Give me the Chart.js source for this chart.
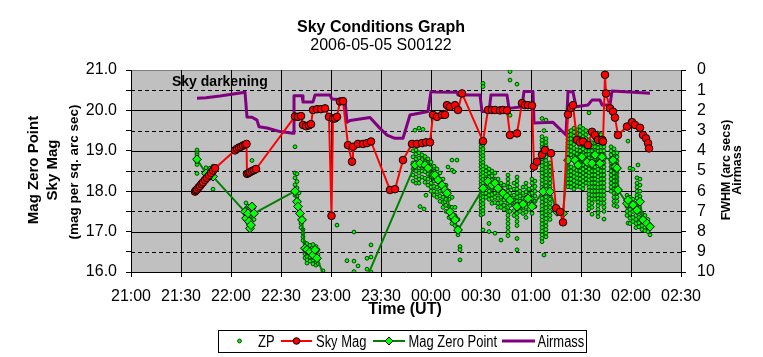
<!DOCTYPE html>
<html><head><meta charset="utf-8">
<script src="https://cdn.jsdelivr.net/npm/chart.js@4"></script>
<style>html,body{margin:0;padding:0;background:#fff}canvas{display:block}</style>
</head><body>
<canvas id="c" width="763" height="357"></canvas>
<script>
const FONT = "'Liberation Sans', Arial, sans-serif";

// ---- axis ticks ----
const xTickValues = [21,21.5,22,22.5,23,23.5,24,24.5,25,25.5,26,26.5];
const xTickLabels = ['21:00','21:30','22:00','22:30','23:00','23:30','00:00','00:30','01:00','01:30','02:00','02:30'];
const yTickValues = [16,16.5,17,17.5,18,18.5,19,19.5,20,20.5,21];
const yTickLabels = ['16.0','','17.0','','18.0','','19.0','','20.0','','21.0'];
const y2TickValues = [0,1,2,3,4,5,6,7,8,9,10];
const y2TickLabels = ['0','1','2','3','4','5','6','7','8','9','10'];

// ---- Sky Mag (time in hours UT, past midnight = 24+) ----
const skyMagTime = [21.64,21.65,21.66,21.675,21.69,21.705,21.72,21.74,21.76,21.78,21.80,21.82,21.84,
 22.04,22.06,22.08,22.10,22.12,22.14,22.155,
 22.16,22.175,22.19,22.21,22.23,22.25,
 22.64,22.67,22.70,22.72,22.75,22.78,22.80,22.82,22.86,22.90,22.94,22.98,23.005,23.02,23.04,23.06,23.09,23.12,
 23.17,23.21,23.22,23.27,23.32,23.36,23.40,
 23.59,23.64,23.72,23.81,23.86,23.91,23.95,23.99,
 24.02,24.06,24.11,24.14,24.16,24.19,24.24,24.27,24.31,
 24.52,24.57,24.61,24.64,24.69,24.72,24.76,24.79,24.86,24.91,24.94,24.97,25.01,
 25.03,25.06,25.11,25.14,25.20,25.25,25.29,25.32,
 25.37,25.40,25.42,25.46,25.49,25.52,25.57,25.61,25.64,25.67,25.71,25.72,25.74,25.75,25.79,25.82,25.84,25.87,
 25.96,26.01,26.04,26.09,26.12,26.15,26.17,26.18];
const skyMagValue = [17.99,18.02,18.04,18.09,18.13,18.18,18.22,18.28,18.33,18.39,18.45,18.51,18.57,
 19.01,19.05,19.08,19.10,19.13,19.15,19.17,
 18.43,18.45,18.47,18.50,18.52,18.55,
 19.85,19.84,19.86,19.64,19.61,19.63,19.66,20.01,20.03,20.03,20.05,19.84,17.39,19.80,19.80,19.84,20.22,20.23,
 19.14,18.73,19.10,19.17,19.17,19.19,19.23,
 18.03,18.05,18.77,19.17,19.17,19.19,19.21,19.21,
 19.89,19.84,19.89,19.89,20.13,20.09,20.13,20.01,20.42,
 19.24,20.01,20.01,20.01,20.00,20.01,20.00,19.39,19.43,20.18,20.13,20.13,20.12,
 18.61,18.73,18.90,19.02,18.94,17.58,17.49,17.23,
 19.90,20.06,20.13,19.27,19.21,19.23,19.14,19.47,19.39,19.27,19.27,19.23,20.88,20.42,20.05,19.97,19.82,19.39,
 19.60,19.71,19.64,19.57,19.39,19.31,19.19,19.06];

// ---- Mag Zero Point ----
const mzpTime = [21.66,21.75,21.82,22.14,22.15,22.17,22.18,22.19,22.20,22.21,22.23,
 22.64,22.66,22.67,22.69,22.71,22.74,22.76,22.79,22.82,22.84,22.86,23.14,
 23.84,23.89,23.94,23.97,24.02,24.04,24.07,24.11,24.14,24.16,24.19,24.22,24.24,24.27,
 24.52,24.57,24.61,24.64,24.67,24.72,24.76,24.79,24.86,24.92,24.97,25.01,
 25.12,25.19,25.26,25.32,
 25.37,25.44,25.47,25.51,25.56,25.61,25.64,25.69,25.71,25.82,25.84,25.86,25.87,
 25.96,25.97,26.02,26.06,26.09,26.12,26.16,26.19];
const mzpValue = [18.79,18.44,18.36,17.49,17.33,17.45,17.25,17.08,17.16,17.62,17.45,
 18.00,17.74,17.62,17.45,17.29,16.59,16.55,16.50,16.42,16.55,16.34,14.60,
 18.65,18.69,18.65,18.57,18.40,18.40,18.28,18.15,18.03,17.95,17.49,17.37,17.29,17.04,
 18.07,18.24,18.15,18.20,18.07,17.95,17.86,17.78,17.62,17.68,17.82,17.62,
 17.99,17.99,17.49,17.45,
 18.77,18.77,18.65,18.85,18.72,18.69,18.90,18.69,18.85,18.77,18.60,18.57,18.03,
 17.70,17.78,17.66,17.53,17.74,17.29,17.20,17.12];

// ---- Airmass (right axis) ----
const airmassTime = [21.66,21.75,21.89,22.14,22.16,22.21,22.26,22.28,22.36,22.49,22.62,22.63,22.71,22.72,22.82,22.84,22.99,
 23.01,23.14,23.16,23.19,23.39,23.49,23.56,23.64,23.72,23.79,23.97,24.00,24.04,24.26,24.27,24.49,24.51,24.58,24.60,24.76,
 24.78,24.91,24.93,25.02,25.03,25.22,25.35,25.37,25.42,25.45,25.57,25.61,25.69,25.71,25.79,25.81,25.99,26.19];
const airmassValue = [1.40,1.37,1.29,1.10,2.33,2.34,2.48,2.81,2.87,3.05,3.13,1.27,1.27,1.58,1.58,1.24,1.24,
 1.44,1.49,2.59,2.50,2.35,2.89,3.22,3.38,3.38,2.23,2.05,1.07,1.09,1.10,1.24,1.24,2.06,2.06,1.24,1.24,
 1.90,1.82,1.07,1.07,2.62,2.59,3.22,1.07,1.09,1.82,1.73,1.49,1.49,1.73,1.73,1.04,1.09,1.15];

// ---- ZP individual frames: [time, value, value, ...] ----
const zpColumns = [
 [21.66, 19.02, 18.95, 18.90, 18.84, 18.72, 18.66, 18.44],
 [21.75, 18.58, 18.49, 18.40],
 [21.79, 18.57, 18.47, 18.33],
 [21.82, 18.62, 18.45, 18.05],
 [22.15, 17.71, 17.57, 17.40, 17.30],
 [22.17, 17.63, 17.50, 17.34, 17.21],
 [22.19, 17.48, 17.37, 17.24, 17.09, 17.03],
 [22.21, 18.76, 17.55, 17.45, 17.17],
 [22.23, 17.60, 17.47, 17.30],
 [22.64, 19.10, 18.45, 18.33, 18.16, 18.01, 17.90],
 [22.66, 18.43, 18.24, 18.08, 17.87, 17.79, 17.70],
 [22.68, 17.96, 17.63, 17.55, 17.46],
 [22.70, 17.38, 17.30, 17.20, 17.10],
 [22.72, 17.05, 16.96, 16.87, 16.78],
 [22.74, 16.72, 16.62, 16.55, 16.45, 16.35],
 [22.76, 16.70, 16.60, 16.47, 16.38, 16.30, 16.22],
 [22.79, 16.66, 16.56, 16.46, 16.37, 16.27],
 [22.82, 16.68, 16.50, 16.41, 16.30, 16.20],
 [22.85, 16.63, 16.49, 16.39, 16.25, 16.17],
 [22.87, 16.55, 16.43, 16.32, 16.21],
 [22.92, 16.03],
 [23.06, 17.16],
 [23.16, 16.28],
 [23.23, 16.99, 16.27, 16.01],
 [23.27, 16.15],
 [23.36, 16.34, 16.07],
 [23.40, 16.67, 16.37, 16.00],
 [23.82, 19.00, 18.85, 18.70, 18.55, 18.40, 18.25],
 [23.84, 19.51],
 [23.85, 19.02, 18.92, 18.80, 18.66, 18.50, 18.35, 18.20],
 [23.88, 19.56, 18.95, 18.82, 18.70, 18.58, 18.45, 18.30, 18.20],
 [23.89, 17.62],
 [23.91, 18.90, 18.78, 18.62, 18.50, 18.35],
 [23.92, 19.53],
 [23.93, 17.56],
 [23.94, 18.86, 18.74, 18.60, 18.48, 18.32, 18.22],
 [23.95, 17.90],
 [23.97, 18.80, 18.68, 18.55, 18.42, 18.30, 18.15],
 [24.00, 18.72, 18.60, 18.45, 18.35, 18.20, 18.10, 18.00],
 [24.03, 18.62, 18.50, 18.38, 18.25, 18.12, 18.00, 17.90],
 [24.06, 18.55, 18.40, 18.25, 18.10, 17.98, 17.85],
 [24.09, 18.45, 18.30, 18.15, 18.00, 17.88, 17.75],
 [24.12, 18.30, 18.15, 18.00, 17.85, 17.72, 17.60],
 [24.14, 17.74],
 [24.15, 18.15, 17.95, 17.80, 17.65, 17.50],
 [24.17, 18.60],
 [24.18, 18.00, 17.80, 17.62, 17.48, 17.35],
 [24.21, 18.77, 18.52, 17.85, 17.60, 17.45, 17.30, 17.20],
 [24.23, 18.48],
 [24.24, 17.60, 17.40, 17.28, 17.15],
 [24.26, 18.77],
 [24.27, 17.30, 17.10, 17.00, 16.92],
 [24.29, 16.63, 16.55, 16.30],
 [24.50, 19.19, 19.10, 19.02, 18.93, 18.85, 18.76, 18.68, 18.60, 18.51, 18.42, 18.34, 18.25, 18.17, 18.08, 18.00, 17.91, 17.83, 17.74, 17.66, 17.57, 17.49, 17.41],
 [24.52, 20.67, 20.59, 19.15, 19.05, 18.97, 18.88, 18.80, 18.71, 18.63, 18.54, 18.46, 18.37, 18.29, 18.20, 18.12, 18.03, 17.95, 17.86, 17.78, 17.69, 17.61, 17.52, 17.44, 17.04],
 [24.55, 18.60, 18.50, 18.42, 18.30, 18.20, 18.10, 17.95, 17.85],
 [24.58, 18.55, 18.45, 18.35, 18.25, 18.12, 18.00, 17.90, 17.80, 17.20, 17.00],
 [24.61, 18.50, 18.38, 18.28, 18.15, 18.05, 17.92, 17.82, 17.70],
 [24.64, 18.45, 18.30, 18.20, 18.08, 17.95, 17.85, 17.72, 16.96],
 [24.67, 18.30, 18.18, 18.05, 17.95, 17.82, 17.70, 17.60],
 [24.70, 18.20, 18.08, 17.95, 17.85, 17.72, 17.60, 16.79],
 [24.73, 18.15, 18.00, 17.90, 17.78, 17.65, 17.55],
 [24.77, 18.40, 18.30, 18.20, 18.10, 18.00, 17.90, 17.80, 17.70, 17.60, 17.50, 17.40, 17.30, 17.20, 17.10, 17.00, 16.90],
 [24.79, 20.96, 20.75, 19.88, 18.10, 17.95, 17.80, 17.65, 17.50],
 [24.83, 18.20, 18.05, 17.90, 17.78, 17.65, 17.52, 17.40],
 [24.86, 20.65, 18.35, 18.25, 18.15, 18.05, 17.95, 17.85, 17.75, 17.65, 17.55, 17.45, 17.35, 17.25, 17.15, 16.83, 16.55],
 [24.89, 18.00, 17.88, 17.75, 17.62, 17.50],
 [24.92, 18.10, 17.95, 17.82, 17.70, 17.58, 17.45],
 [24.95, 18.20, 18.10, 17.98, 17.85, 17.72, 17.60, 17.48, 17.35],
 [24.98, 18.05, 17.92, 17.80, 17.68, 17.55],
 [25.01, 18.30, 18.20, 18.08, 17.95, 17.82, 17.70, 17.58, 17.45],
 [25.04, 18.25, 18.12, 18.00, 17.88, 17.75, 17.62],
 [25.11, 19.80, 19.35, 19.26, 19.17, 19.08, 18.99, 18.90, 18.81, 18.72, 18.63, 18.54, 18.45, 18.36, 18.27, 18.18, 18.09, 18.00, 17.91, 17.82, 17.73, 17.64, 17.55, 17.46, 17.37, 17.28, 17.19, 17.10, 17.01, 16.92, 16.83, 16.75],
 [25.13, 19.50, 16.42],
 [25.15, 19.76, 19.30, 19.21, 19.12, 19.03, 18.94, 18.85, 18.76, 18.67, 18.58, 18.49, 18.40, 18.31, 18.22, 18.13, 18.04, 17.95, 17.86, 17.77, 17.68, 17.59, 17.50, 17.41, 17.32, 17.23, 17.14, 17.05, 16.96, 16.87],
 [25.19, 18.70, 18.60, 18.50, 18.40, 18.30, 18.20, 18.10, 18.00, 17.90, 17.80, 17.70, 17.60, 17.50, 17.40, 17.30],
 [25.37, 19.47, 19.38, 19.29, 19.20, 19.11, 19.02, 18.93, 18.84, 18.66, 18.57, 18.48, 18.39, 18.30, 18.20, 18.11],
 [25.40, 19.50, 19.40, 19.30, 19.20, 19.10, 19.00, 18.90, 18.60, 18.50, 18.40, 18.30, 18.20, 18.10],
 [25.43, 19.56, 19.46, 19.36, 19.26, 19.16, 19.06, 18.96, 18.86, 18.76, 18.56, 18.46, 18.36, 18.26, 18.16, 18.05],
 [25.46, 19.52, 19.42, 19.32, 19.22, 19.02, 18.92, 18.82, 18.72, 18.52, 18.42, 18.32, 18.22, 18.12],
 [25.49, 19.60, 19.50, 19.40, 19.30, 19.10, 19.00, 18.90, 18.80, 18.70, 18.60, 18.50, 18.40, 18.30, 18.20, 18.10],
 [25.52, 19.55, 19.45, 19.35, 19.25, 19.15, 19.05, 18.95, 18.75, 18.65, 18.55, 18.45, 18.35, 18.25, 18.15, 18.06],
 [25.55, 19.50, 19.40, 19.30, 19.20, 19.10, 19.00, 18.90, 18.80, 18.70, 18.60, 18.50, 18.40, 18.30, 18.20],
 [25.58, 19.94, 19.27, 19.18, 19.09, 19.00, 18.91, 18.82, 18.64, 18.55, 18.46, 18.37, 18.28, 18.19, 18.10, 18.01, 17.92, 17.83, 17.74, 17.65, 17.56],
 [25.61, 19.20, 19.10, 19.00, 18.90, 18.80, 18.60, 18.50, 18.40, 18.30, 18.20, 18.10, 18.00, 17.90, 17.80, 17.70, 17.60, 17.43],
 [25.64, 19.30, 19.20, 19.10, 19.00, 18.80, 18.70, 18.60, 18.50, 18.40, 18.30, 18.20, 18.10, 18.00, 17.90, 17.80],
 [25.67, 19.44, 19.35, 19.26, 19.17, 19.08, 18.99, 18.90, 18.81, 18.72, 18.63, 18.54, 18.45, 18.36, 18.27, 18.18, 18.09, 18.00, 17.91, 17.82, 17.73, 17.64, 17.55, 17.46, 17.37],
 [25.70, 19.40, 19.30, 19.20, 19.10, 19.00, 18.90, 18.80, 18.70, 18.60, 18.50, 18.40, 18.30, 18.20, 18.10, 18.00, 17.90, 17.80, 17.70],
 [25.73, 19.30, 19.20, 19.10, 19.00, 18.90, 18.80, 18.70, 18.60, 18.50, 18.40, 18.30, 18.20, 18.10, 18.00, 17.90, 17.80, 17.70, 17.60, 17.50, 17.31],
 [25.80, 19.10, 19.00, 18.90, 18.80, 18.70, 18.60, 18.50, 18.40, 18.30, 18.20, 18.10, 18.00],
 [25.83, 19.05, 18.95, 18.85, 18.75, 18.65, 18.55, 18.45, 18.35, 18.25, 18.15, 18.05, 17.95, 17.85, 17.75, 17.65],
 [25.86, 18.95, 18.85, 18.75, 18.65, 18.55, 18.45, 18.35, 18.25, 18.15, 18.05, 17.95, 17.85, 17.75, 17.62],
 [25.96, 17.90, 17.75, 17.62, 17.50, 17.40],
 [25.97, 19.24, 17.21],
 [25.99, 18.57, 17.85, 17.70, 17.55, 17.45, 17.33, 17.20],
 [26.02, 18.54, 17.80, 17.65, 17.50, 17.35, 17.25],
 [26.05, 17.70, 17.55, 17.40, 17.30, 17.20, 17.10],
 [26.06, 18.33, 18.20, 18.10, 18.00, 17.90, 17.83],
 [26.07, 18.65],
 [26.08, 17.60, 17.48, 17.35, 17.22, 17.12],
 [26.09, 18.30, 18.15, 18.00, 17.87],
 [26.11, 17.45, 17.35, 17.25, 17.15, 17.05],
 [26.14, 17.40, 17.30, 17.20, 17.10, 17.02],
 [26.17, 17.30, 17.20, 17.10, 17.00],
 [26.19, 17.15, 16.92]
];

const pairs = (ts, vs) => ts.map((t, i) => ({x: t, y: vs[i]}));
const zpPoints = [];
zpColumns.forEach(c => { for (let i = 1; i < c.length; i++) zpPoints.push({x: c[0], y: c[i]}); });

function txt(ctx, s, x, y, font, align, rot, sx) {
  ctx.save();
  ctx.translate(x, y);
  if (rot) ctx.rotate(rot);
  if (sx) ctx.scale(sx, 1);
  ctx.font = font; ctx.textAlign = align || 'left'; ctx.textBaseline = 'alphabetic';
  ctx.fillStyle = '#000';
  ctx.fillText(s, 0, 0);
  ctx.restore();
}

const decor = {
  id: 'decor',
  beforeDraw(chart) {
    const {ctx, chartArea: a} = chart;
    const xs = chart.scales.x, ys = chart.scales.y;
    ctx.save();
    ctx.fillStyle = '#fff'; ctx.fillRect(0, 0, chart.width, chart.height);
    ctx.fillStyle = '#c0c0c0'; ctx.fillRect(a.left, a.top, a.right - a.left, a.bottom - a.top);
    ctx.lineWidth = 1;
    yTickValues.forEach(v => {
      if (v === 16) return;
      const p = Math.round(ys.getPixelForValue(v)) + 0.5;
      ctx.beginPath();
      if (v === 21) { ctx.strokeStyle = '#808080'; ctx.setLineDash([]); }
      else { ctx.strokeStyle = '#000'; ctx.setLineDash(Number.isInteger(v) ? [] : [4, 3]); }
      ctx.moveTo(a.left, p); ctx.lineTo(a.right, p); ctx.stroke();
    });
    ctx.setLineDash([]);
    ctx.strokeStyle = '#000';
    xTickValues.forEach(v => {
      if (v === 21 || v === 26.5) return;
      const p = Math.round(xs.getPixelForValue(v)) + 0.5;
      ctx.beginPath(); ctx.moveTo(p, a.top); ctx.lineTo(p, a.bottom); ctx.stroke();
    });
    ctx.restore();
  },
  afterDraw(chart) {
    const ctx = chart.ctx;
    const B = 'bold ';
    txt(ctx, 'Sky Conditions Graph', 381, 31.5, B + '16px ' + FONT, 'center');
    txt(ctx, '2006-05-05 S00122', 381, 50, '16px ' + FONT, 'center');
    txt(ctx, 'Time (UT)', 405, 314, B + '16px ' + FONT, 'center');
    txt(ctx, 'Mag Zero Point', 37.5, 170, B + '15px ' + FONT, 'center', -Math.PI / 2);
    txt(ctx, 'Sky Mag', 57, 170, B + '15px ' + FONT, 'center', -Math.PI / 2);
    txt(ctx, '(mag per sq. arc sec)', 77.5, 172, B + '13.5px ' + FONT, 'center', -Math.PI / 2);
    txt(ctx, 'FWHM (arc secs)', 729.5, 170, B + '12.5px ' + FONT, 'center', -Math.PI / 2);
    txt(ctx, 'Airmass', 741, 170, B + '12.5px ' + FONT, 'center', -Math.PI / 2);
    txt(ctx, 'Sky darkening', 172, 85.5, B + '14px ' + FONT, 'left');
    // legend
    ctx.save();
    ctx.strokeStyle = '#000'; ctx.lineWidth = 1;
    ctx.strokeRect(218.5, 330.5, 368, 22);
    const ly = 341;
    const LF = '16px ' + FONT, SX = 0.81;
    // ZP
    ctx.beginPath(); ctx.arc(239.5, ly, 1.9, 0, Math.PI * 2);
    ctx.fillStyle = '#00ff00'; ctx.fill(); ctx.strokeStyle = '#003300'; ctx.lineWidth = 0.9; ctx.stroke();
    txt(ctx, 'ZP', 258, 346.5, LF, 'left', 0, SX);
    // Sky Mag
    ctx.strokeStyle = '#ff0000'; ctx.lineWidth = 2;
    ctx.beginPath(); ctx.moveTo(281, ly); ctx.lineTo(312, ly); ctx.stroke();
    ctx.beginPath(); ctx.arc(296.5, ly, 3.3, 0, Math.PI * 2);
    ctx.fillStyle = '#ff0000'; ctx.fill(); ctx.strokeStyle = '#000'; ctx.lineWidth = 1; ctx.stroke();
    txt(ctx, 'Sky Mag', 316, 346.5, LF, 'left', 0, SX);
    // Mag Zero Point
    ctx.strokeStyle = '#008000'; ctx.lineWidth = 2;
    ctx.beginPath(); ctx.moveTo(373, ly); ctx.lineTo(405, ly); ctx.stroke();
    ctx.beginPath(); ctx.moveTo(389, ly - 4); ctx.lineTo(393, ly); ctx.lineTo(389, ly + 4); ctx.lineTo(385, ly); ctx.closePath();
    ctx.fillStyle = '#00ff00'; ctx.fill(); ctx.strokeStyle = '#000'; ctx.lineWidth = 1; ctx.stroke();
    txt(ctx, 'Mag Zero Point', 408.5, 346.5, LF, 'left', 0, SX);
    // Airmass
    ctx.strokeStyle = '#800080'; ctx.lineWidth = 3;
    ctx.beginPath(); ctx.moveTo(502, ly); ctx.lineTo(535, ly); ctx.stroke();
    txt(ctx, 'Airmass', 537.5, 346.5, LF, 'left', 0, SX);
    ctx.restore();
  }
};

new Chart(document.getElementById('c'), {
  type: 'line',
  data: {
    datasets: [
      {label: 'ZP', data: zpPoints, showLine: false, yAxisID: 'y', order: 4,
       pointRadius: 1.9, pointBackgroundColor: '#00ff00', pointBorderColor: '#003300', pointBorderWidth: 0.9},
      {label: 'Sky Mag', data: pairs(skyMagTime, skyMagValue), yAxisID: 'y', order: 1,
       borderColor: '#ff0000', borderWidth: 2, pointRadius: 3.8,
       pointBackgroundColor: '#ff0000', pointBorderColor: '#000', pointBorderWidth: 1},
      {label: 'Mag Zero Point', data: pairs(mzpTime, mzpValue), yAxisID: 'y', order: 2,
       borderColor: '#008000', borderWidth: 2, pointStyle: 'rectRot', pointRadius: 4.4,
       pointBackgroundColor: '#00ff00', pointBorderColor: '#000', pointBorderWidth: 1},
      {label: 'Airmass', data: pairs(airmassTime, airmassValue), yAxisID: 'y2', order: 3,
       borderColor: '#800080', borderWidth: 3, pointRadius: 0}
    ]
  },
  options: {
    responsive: false, animation: false, devicePixelRatio: 1,
    layout: {padding: {top: 70, left: 0, right: 0, bottom: 0}},
    elements: {line: {tension: 0, borderJoinStyle: 'round'}},
    plugins: {legend: {display: false}, title: {display: false}, tooltip: {enabled: false}},
    scales: {
      x: {
        type: 'linear', position: 'bottom', min: 21, max: 26.5,
        afterBuildTicks: s => { s.ticks = xTickValues.map(v => ({value: v})); },
        afterFit: s => { s.height = 85; },
        ticks: {callback: (v, i) => xTickLabels[i], font: {size: 16, family: FONT}, color: '#000',
                padding: 10, maxRotation: 0, autoSkip: false},
        grid: {drawOnChartArea: false, drawTicks: true, tickLength: 5, tickColor: '#000'},
        border: {display: true, color: '#000', width: 1}
      },
      y: {
        type: 'linear', position: 'left', min: 16, max: 21,
        afterBuildTicks: s => { s.ticks = yTickValues.map(v => ({value: v})); },
        afterFit: s => { s.width = 131; },
        ticks: {callback: (v, i) => yTickLabels[i], font: {size: 16, family: FONT}, color: '#000', padding: 9, autoSkip: false},
        grid: {drawOnChartArea: false, drawTicks: true, tickLength: 5, tickColor: '#000'},
        border: {display: true, color: '#000', width: 1}
      },
      y2: {
        type: 'linear', position: 'right', min: 0, max: 10, reverse: true,
        afterBuildTicks: s => { s.ticks = y2TickValues.map(v => ({value: v})); },
        afterFit: s => { s.width = 82; },
        ticks: {callback: (v, i) => y2TickLabels[i], font: {size: 16, family: FONT}, color: '#000', padding: 11, autoSkip: false},
        grid: {drawOnChartArea: false, drawTicks: true, tickLength: 5, tickColor: '#000'},
        border: {display: true, color: '#000', width: 1}
      }
    }
  },
  plugins: [decor]
});
</script>
</body></html>
